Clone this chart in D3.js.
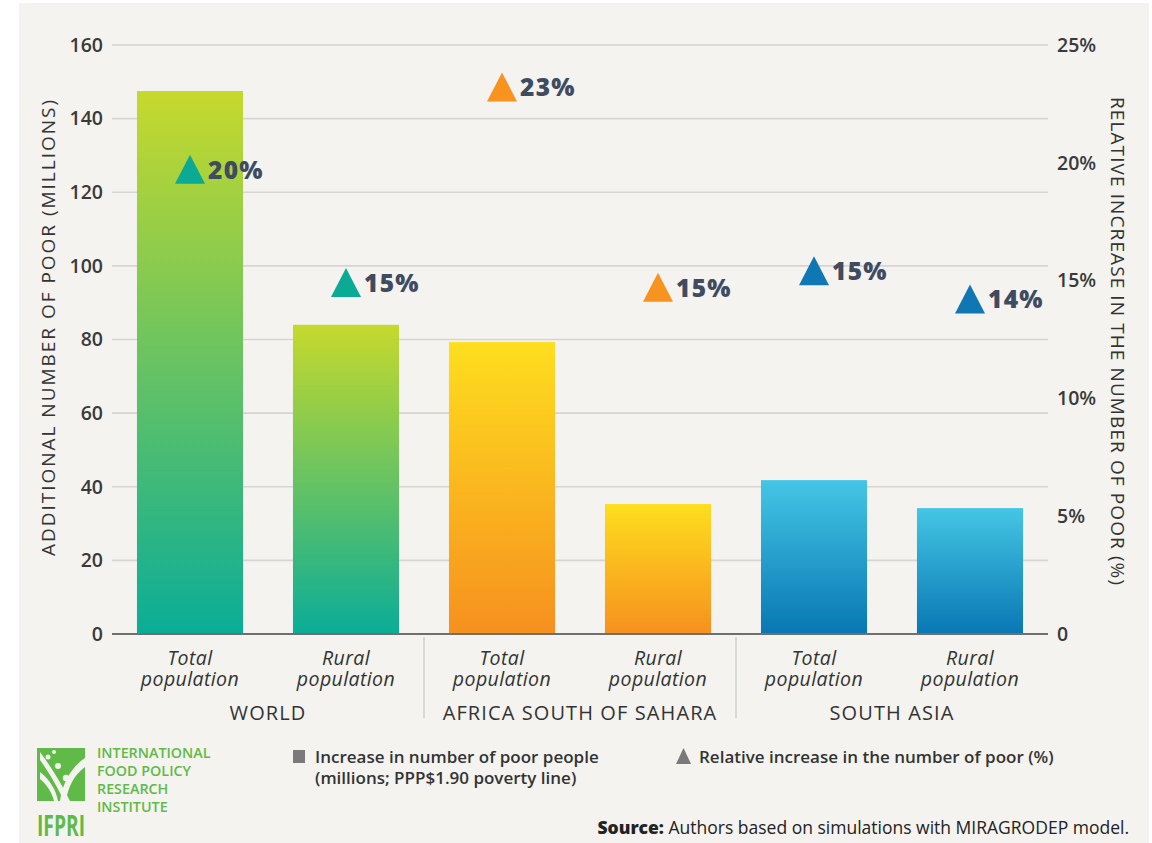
<!DOCTYPE html>
<html><head><meta charset="utf-8">
<script src="https://cdn.jsdelivr.net/npm/d3@7"></script>
<style>
html,body{margin:0;padding:0;background:#fff;}
svg{display:block;}
text{font-family:"Open Sans",Lato,sans-serif;}
</style></head><body>
<svg id="chart" width="1152" height="843"></svg>
<script>
// ---- data ----
const groups = ["WORLD", "AFRICA SOUTH OF SAHARA", "SOUTH ASIA"];
const categories = ["Total population", "Rural population", "Total population", "Rural population", "Total population", "Rural population"];
const categoryGroup = [0, 0, 1, 1, 2, 2];
const poorMillions = [147.5, 84, 79.3, 35.3, 41.8, 34.2];
const relativeIncrease = [19.7, 14.9, 23.2, 14.7, 15.4, 14.2];
const relativeLabels = ["20%", "15%", "23%", "15%", "15%", "14%"];
const leftTicks = [0, 20, 40, 60, 80, 100, 120, 140, 160];
const rightTicks = [0, 5, 10, 15, 20, 25];
const rightTickLabels = ["0", "5%", "10%", "15%", "20%", "25%"];

// ---- styles ----
const gradStops = [
  ["#c6d92c", "#0aad98"],
  ["#fede1e", "#f6901f"],
  ["#45c6e5", "#0877b3"]
];
const markerColors = ["#0aaa95", "#f7931e", "#0f78b4"];
const bg = "#f4f3f0";

const svg = d3.select("#chart");
svg.append("rect").attr("x", 19).attr("y", 3).attr("width", 1130).attr("height", 840).attr("fill", bg);

const pLeft = 112, pRight = 1048, pTop = 45, pBottom = 634;
const x = d3.scaleBand().domain(d3.range(categories.length)).range([pLeft, pRight]).paddingInner(0.32).paddingOuter(0.16);
const y = d3.scaleLinear().domain([0, 160]).range([pBottom, pTop]);
const y2 = d3.scaleLinear().domain([0, 25]).range([pBottom, pTop]);

// gradients
const defs = svg.append("defs");
gradStops.forEach((s, i) => {
  const g = defs.append("linearGradient").attr("id", "grad" + i).attr("x1", 0).attr("y1", 0).attr("x2", 0).attr("y2", 1);
  g.append("stop").attr("offset", "0%").attr("stop-color", s[0]);
  g.append("stop").attr("offset", "100%").attr("stop-color", s[1]);
});

// gridlines
svg.append("g").selectAll("line").data(leftTicks.filter(d => d > 0)).join("line")
  .attr("x1", pLeft).attr("x2", pRight).attr("y1", d => y(d)).attr("y2", d => y(d))
  .attr("stroke", "#d6d5d2").attr("stroke-width", 1.6);

// left axis
const yAxis = d3.axisLeft(y).tickValues(leftTicks).tickSize(0).tickPadding(9);
const gy = svg.append("g").attr("transform", `translate(${pLeft},0)`).call(yAxis);
gy.select(".domain").remove();
gy.selectAll("text").attr("font-size", 19.5).attr("font-weight", 600).attr("fill", "#3a3a3a").attr("font-family", "Open Sans, sans-serif");

// right axis
const y2Axis = d3.axisRight(y2).tickValues(rightTicks).tickSize(0).tickPadding(9).tickFormat((d, i) => rightTickLabels[i]);
const gy2 = svg.append("g").attr("transform", `translate(${pRight},0)`).call(y2Axis);
gy2.select(".domain").remove();
gy2.selectAll("text").attr("font-size", 19.5).attr("font-weight", 600).attr("fill", "#3a3a3a").attr("font-family", "Open Sans, sans-serif");

// bars
svg.append("g").selectAll("rect").data(poorMillions).join("rect")
  .attr("x", (d, i) => x(i)).attr("width", x.bandwidth())
  .attr("y", d => y(d)).attr("height", d => y(0) - y(d))
  .attr("fill", (d, i) => `url(#grad${categoryGroup[i]})`);

// baseline
svg.append("line").attr("x1", pLeft).attr("x2", pRight).attr("y1", y(0)).attr("y2", y(0))
  .attr("stroke", "#6f6f6f").attr("stroke-width", 2.2);

// category labels (two lines)
const catG = svg.append("g");
categories.forEach((c, i) => {
  const parts = c.split(" ");
  const cx = x(i) + x.bandwidth() / 2;
  parts.forEach((p, k) => {
    catG.append("text").attr("x", cx).attr("y", 665 + k * 21).attr("text-anchor", "middle")
      .attr("font-size", 19.5).attr("font-style", "italic").attr("letter-spacing", 0.4).attr("fill", "#333").text(p);
  });
});

// group labels and separators
groups.forEach((g, gi) => {
  const idx = d3.range(categories.length).filter(i => categoryGroup[i] === gi);
  const x0 = x(idx[0]), x1 = x(idx[idx.length - 1]) + x.bandwidth();
  svg.append("text").attr("x", (x0 + x1) / 2).attr("y", 720).attr("text-anchor", "middle")
    .attr("font-size", 20).attr("letter-spacing", 1.1).attr("fill", "#333").text(g);
  if (gi > 0) {
    const sx = x0 - x.step() * x.paddingInner() / 2;
    svg.append("line").attr("x1", sx).attr("x2", sx).attr("y1", 637).attr("y2", 718)
      .attr("stroke", "#cfcfcc").attr("stroke-width", 1.5);
  }
});

// triangles
const mk = svg.append("g");
relativeIncrease.forEach((v, i) => {
  const cx = x(i) + x.bandwidth() / 2, cy = y2(v);
  mk.append("path").attr("d", `M${cx},${cy - 15}L${cx + 15},${cy + 14}L${cx - 15},${cy + 14}Z`).attr("fill", markerColors[categoryGroup[i]]);
  mk.append("text").attr("x", cx + 18).attr("y", cy + 9).attr("font-size", 24.5).attr("font-weight", 800)
    .attr("letter-spacing", 1.3).attr("fill", "#3e4b61").text(relativeLabels[i]);
});

// axis titles
svg.append("text").attr("transform", `translate(55,328) rotate(-90)`).attr("text-anchor", "middle")
  .attr("font-size", 19).attr("fill", "#333").attr("textLength", 456).attr("lengthAdjust", "spacing")
  .text("ADDITIONAL NUMBER OF POOR (MILLIONS)");
svg.append("text").attr("transform", `translate(1111,341) rotate(90)`).attr("text-anchor", "middle")
  .attr("font-size", 19).attr("fill", "#333").attr("textLength", 488).attr("lengthAdjust", "spacing")
  .text("RELATIVE INCREASE IN THE NUMBER OF POOR (%)");

// legend
svg.append("rect").attr("x", 293).attr("y", 750).attr("width", 12).attr("height", 13).attr("fill", "#7a7a7a");
svg.append("text").attr("x", 315).attr("y", 763).attr("font-size", 17).attr("font-weight", 600).attr("fill", "#333")
  .text("Increase in number of poor people");
svg.append("text").attr("x", 315).attr("y", 784).attr("font-size", 17).attr("font-weight", 600).attr("fill", "#333")
  .text("(millions; PPP$1.90 poverty line)");
svg.append("path").attr("d", "M683.5,748L691,764L676,764Z").attr("fill", "#7a7a7a");
svg.append("text").attr("x", 699).attr("y", 763).attr("font-size", 17).attr("font-weight", 600).attr("fill", "#333")
  .text("Relative increase in the number of poor (%)");

// source
const st = svg.append("text").attr("x", 1129).attr("y", 834).attr("text-anchor", "end").attr("font-size", 17.5).attr("fill", "#222");
st.append("tspan").attr("font-weight", 800).text("Source:");
st.append("tspan").text(" Authors based on simulations with MIRAGRODEP model.");

// logo
const green = "#5fba47";
const logo = svg.append("g");
logo.append("rect").attr("x", 37).attr("y", 748).attr("width", 48).attr("height", 53).attr("fill", green);
logo.append("path").attr("d", "M40,752 C52,768 62,785 70,801 L64,801 C57,786 48,771 40,760 Z").attr("fill", bg);
logo.append("path").attr("d", "M85,758 C70,768 62,785 60,801 L66,801 C68,787 74,775 85,767 Z").attr("fill", bg);
logo.append("path").attr("d", "M40,772 C50,780 56,790 58,801 L54,801 C52,792 46,784 40,779 Z").attr("fill", bg);
[[48, 757, 2.5], [58, 766, 3], [66, 778, 3.2], [54, 752, 2]].forEach(c =>
  logo.append("circle").attr("cx", c[0]).attr("cy", c[1]).attr("r", c[2]).attr("fill", bg));
logo.append("text").attr("x", 37).attr("y", 836).attr("font-size", 29).attr("font-weight", 700)
  .attr("fill", green).attr("textLength", 48).attr("lengthAdjust", "spacingAndGlyphs").text("IFPRI");
["INTERNATIONAL", "FOOD POLICY", "RESEARCH", "INSTITUTE"].forEach((s, i) =>
  svg.append("text").attr("x", 97).attr("y", 758 + i * 18).attr("font-size", 14.3).attr("font-weight", 600)
    .attr("fill", green).text(s));
</script>
</body></html>
